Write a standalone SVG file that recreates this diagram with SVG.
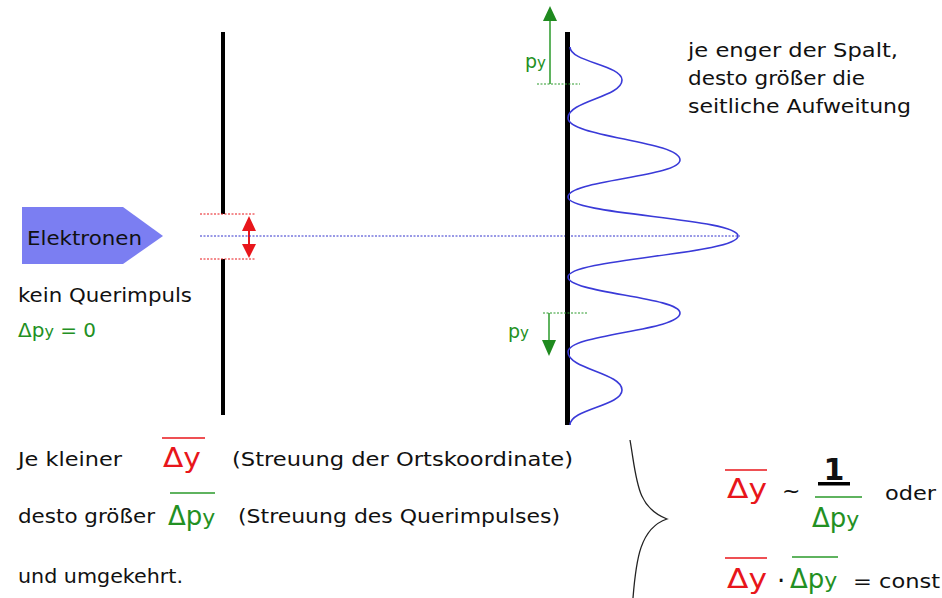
<svg xmlns="http://www.w3.org/2000/svg" width="942" height="598" viewBox="0 0 942 598">
<style>
text{font-family:"DejaVu Sans","Liberation Sans",sans-serif;fill:#111}
.t{font-size:19px}
.r{fill:#e8161b}
.g{fill:#239023}
.big{font-size:26px}
.rl{stroke:#e8161b;stroke-width:1.5}
.gl{stroke:#2a9a2a;stroke-width:1.5}
.rd{stroke:#e8161b;stroke-width:1;stroke-dasharray:2 1.5}
.gd{stroke:#2a9a2a;stroke-width:1;stroke-dasharray:2 1.5}
</style>
<rect width="942" height="598" fill="#fff"/>
<g id="source">
<polygon points="22,207 123,207 163,236 123,264 22,264" fill="#7b7ef2"/>
<text x="27" y="245" class="t" font-size="20" textLength="115" lengthAdjust="spacingAndGlyphs">Elektronen</text>
</g>
<g id="label-left">
<text x="18" y="302" class="t" textLength="174" lengthAdjust="spacingAndGlyphs">kein Querimpuls</text>
<text x="18" y="337" class="g" font-size="20">Δp<tspan font-size="16">y</tspan> = 0</text>
</g>
<g id="slit">
<rect x="221" y="32" width="4" height="182" fill="#000"/>
<rect x="221" y="259" width="4" height="156" fill="#000"/>
<line x1="200" y1="214" x2="256" y2="214" class="rd"/>
<line x1="200" y1="259" x2="256" y2="259" class="rd"/>
<line x1="249" y1="228" x2="249" y2="246" stroke="#e8161b" stroke-width="2"/>
<polygon points="242,231 249,216 256,231" fill="#e8161b"/>
<polygon points="242,244 249,258 256,244" fill="#e8161b"/>
</g>
<g id="connectors">
<line x1="200" y1="236" x2="740" y2="236" stroke="#3333cc" stroke-width="1" stroke-dasharray="2 1.5"/>
</g>
<g id="screen">
<rect x="565" y="32" width="5" height="393" fill="#000"/>
<path d="M570,47 C570,62 622,65 622,80 C622,97 568,101 568,118 C568,137 680,141 680,160 C680,177 568,180 568,197 C568,215 738,218 738,236 C738,254 568,259 568,277 C568,293 680,297 680,313 C680,331 568,334 568,352 C568,369 622,373 622,390 C622,406 570,409 570,425" fill="none" stroke="#3a3ad8" stroke-width="1.6"/>
</g>
<g id="py-top">
<line x1="537" y1="84" x2="580" y2="84" class="gd"/>
<line x1="550" y1="84" x2="550" y2="18" stroke="#2a9a2a" stroke-width="1.5"/>
<polygon points="543,21 550,6 557,21" fill="#1f8a1f"/>
<text x="525" y="68" class="g" font-size="19">p<tspan font-size="15">y</tspan></text>
</g>
<g id="py-bottom">
<line x1="543" y1="313" x2="587" y2="313" class="gd"/>
<line x1="549" y1="313" x2="549" y2="342" stroke="#2a9a2a" stroke-width="1.5"/>
<polygon points="542,340 549,356 556,340" fill="#1f8a1f"/>
<text x="508" y="338" class="g" font-size="19">p<tspan font-size="15">y</tspan></text>
</g>
<g id="note">
<text x="688" y="57" class="t" textLength="210" lengthAdjust="spacingAndGlyphs">je enger der Spalt,</text>
<text x="688" y="85" class="t" textLength="177" lengthAdjust="spacingAndGlyphs">desto größer die</text>
<text x="688" y="113" class="t" textLength="223" lengthAdjust="spacingAndGlyphs">seitliche Aufweitung</text>
</g>
<g id="bottom-text">
<text x="18" y="466" class="t" font-size="18" textLength="104" lengthAdjust="spacingAndGlyphs">Je kleiner</text>
<line x1="162" y1="438" x2="205" y2="438" class="rl"/>
<text x="163" y="467" class="r big" textLength="38" lengthAdjust="spacingAndGlyphs">Δy</text>
<text x="232" y="466" class="t" font-size="18" textLength="341" lengthAdjust="spacingAndGlyphs">(Streuung der Ortskoordinate)</text>
<text x="18" y="523" class="t" font-size="18" textLength="137" lengthAdjust="spacingAndGlyphs">desto größer</text>
<line x1="170" y1="493" x2="215" y2="493" class="gl"/>
<text x="168" y="525" class="g big">Δp<tspan font-size="22">y</tspan></text>
<text x="238" y="523" class="t" font-size="18" textLength="322" lengthAdjust="spacingAndGlyphs">(Streuung des Querimpulses)</text>
<text x="18" y="583" class="t" font-size="18" textLength="165" lengthAdjust="spacingAndGlyphs">und umgekehrt.</text>
</g>
<g id="brace">
<path d="M630,440 C637,480 636,507 667,519 C640,528 636,560 633,598" fill="none" stroke="#222" stroke-width="1.3"/>
</g>
<g id="formula">
<line x1="725" y1="470" x2="767" y2="470" class="rl"/>
<text x="727" y="498" class="r big" textLength="40" lengthAdjust="spacingAndGlyphs">Δy</text>
<text x="782" y="498" font-size="22">~</text>
<text x="834" y="480" font-size="30" font-weight="bold" text-anchor="middle">1</text>
<rect x="818" y="482" width="32" height="3.5" fill="#000"/>
<line x1="815" y1="497" x2="862" y2="497" class="gl"/>
<text x="812" y="527" class="g big">Δp<tspan font-size="22">y</tspan></text>
<text x="885" y="500" font-size="20" textLength="51" lengthAdjust="spacingAndGlyphs">oder</text>
<line x1="725" y1="558" x2="767" y2="558" class="rl"/>
<text x="727" y="588" class="r big" textLength="40" lengthAdjust="spacingAndGlyphs">Δy</text>
<text x="777" y="590" font-size="26">·</text>
<line x1="792" y1="557" x2="838" y2="557" class="gl"/>
<text x="790" y="588" class="g big">Δp<tspan font-size="22">y</tspan></text>
<text x="853" y="588" font-size="20" textLength="87" lengthAdjust="spacingAndGlyphs">= const</text>
</g>
</svg>
